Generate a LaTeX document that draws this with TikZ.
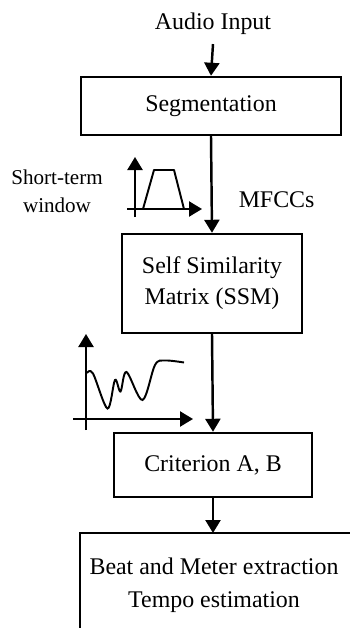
\documentclass[tikz,border=0pt]{standalone}
\usepackage{fontspec}
\setmainfont{Liberation Serif}
\usetikzlibrary{arrows.meta}

\begin{document}
\begin{tikzpicture}[
  block/.style={
    draw,
    line width=1.4pt,
    align=center,
    font=\fontsize{13.6}{17.5}\selectfont
  },
  label/.style={align=center,font=\fontsize{13.6}{17}\selectfont},
  small/.style={align=center,font=\fontsize{12}{16}\selectfont},
  flow/.style={line width=1.4pt,-{Triangle[length=0.26cm,width=0.3cm]}},
  axis/.style={line width=1.3pt,-{Triangle[length=0.26cm,width=0.3cm]}},
  signal/.style={line width=1.1pt}
]
  \useasboundingbox (0,0) rectangle (7,-12.56);

  % Processing chain
  \node[label] (audio) at (4.26,-0.48) {Audio Input};
  \node[block,minimum width=5.2cm,minimum height=1.16cm] (seg)
    at (4.22,-2.12) {Segmentation};
  \node[block,minimum width=3.6cm,minimum height=1.98cm] (ssm)
    at (4.24,-5.67) {Self Similarity\\Matrix (SSM)};
  \node[block,minimum width=3.96cm,minimum height=1.28cm] (crit)
    at (4.26,-9.3) {Criterion A, B};
  \node[label,font=\fontsize{13.6}{18.5}\selectfont] (extract)
    at (4.28,-11.7) {Beat and Meter extraction\\Tempo estimation};

  % last block runs off the page: only its top and left sides show
  \coordinate (extracttop) at (4.26,-10.66);
  \draw[line width=1.4pt] (1.6,-12.56) |- (7,-10.66);

  \draw[flow] (audio.south) ++(0,-0.06) -- (seg.north);
  \draw[flow] (seg.south) -- node[label,right=0.4cm,pos=0.66] (mfcc) {MFCCs}
    (ssm.north);
  \draw[flow] (ssm.south) -- (crit.north);
  \draw[flow] (crit.south) -- (extracttop);

  % Analysis window sketch
  \node[small] (win) at (1.14,-3.82) {Short-term\\window};
  \draw[axis] (2.7,-4.34) -- (2.7,-3.14);
  \draw[axis] (2.54,-4.18) -- (4.04,-4.18);
  \draw[line width=1.1pt,line join=round]
    (2.86,-4.18) -- (3.08,-3.4) -- (3.48,-3.4) -- (3.68,-4.18);

  % Similarity curve sketch
  \draw[axis] (1.72,-8.6) -- (1.72,-6.68);
  \draw[axis] (1.46,-8.38) -- (3.86,-8.38);
  \draw[signal] plot[smooth,tension=0.55] coordinates {
    (1.74,-7.46) (1.86,-7.47) (2.15,-8.17) (2.3,-7.6) (2.41,-7.83)
    (2.53,-7.44) (2.85,-8.0) (3.1,-7.3) (3.3,-7.21) (3.68,-7.25)};
\end{tikzpicture}
\end{document}
